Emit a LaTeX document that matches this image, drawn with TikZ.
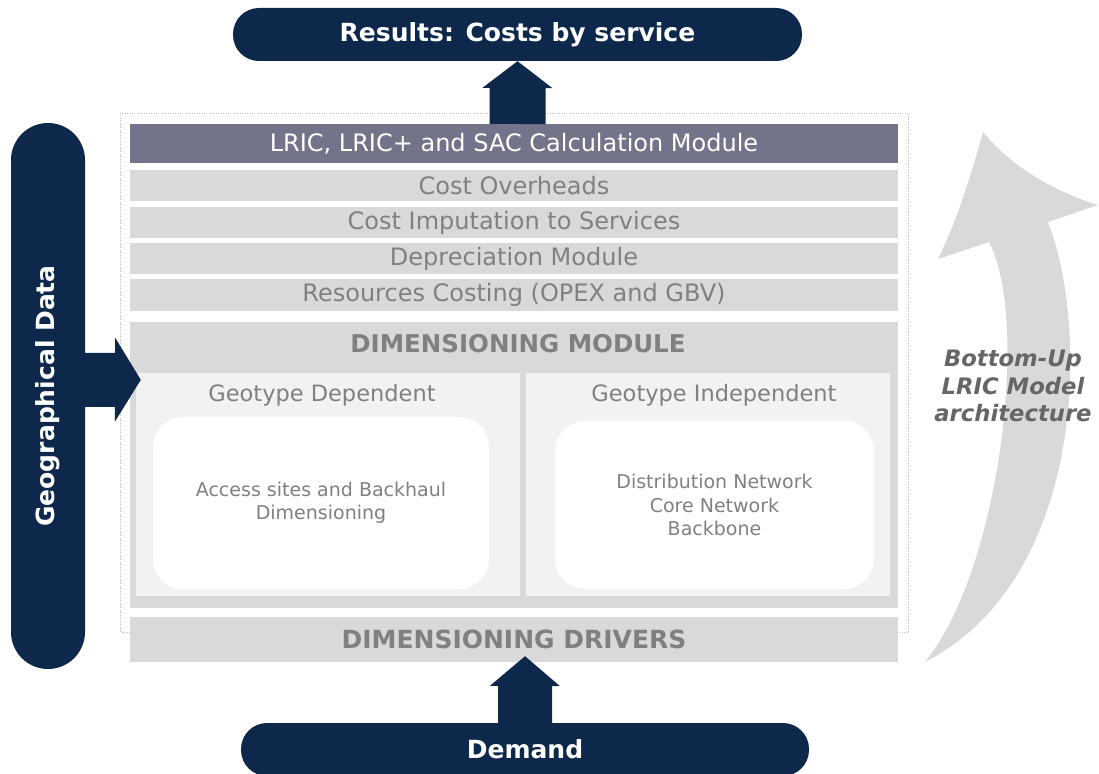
\documentclass[tikz,border=0pt]{standalone}
\usepackage{fontspec}
\setmainfont{DejaVu Sans}
\usepackage{graphicx}
\usetikzlibrary{
  calc,
  positioning,
}
\definecolor{navy}{RGB}{14, 40, 76}
\definecolor{slate}{RGB}{115, 115, 138}
\definecolor{lightgrey}{RGB}{217, 217, 217}
\definecolor{panelgrey}{RGB}{242, 242, 242}
\definecolor{textgrey}{RGB}{128, 128, 128}
\definecolor{darktext}{RGB}{102, 102, 102}
\tikzstyle{pill} = [
  fill=navy,
  text=white,
  inner sep=0pt,
  font=\bfseries\fontsize{25}{25}\selectfont,
]
\tikzstyle{layer} = [
  fill=lightgrey,
  text=textgrey,
  inner sep=0pt,
  minimum width=768pt,
  font=\fontsize{24}{24}\selectfont,
]
\tikzstyle{panel} = [
  fill=panelgrey,
  inner sep=0pt,
  minimum height=223pt,
]
\tikzstyle{whitebox} = [
  fill=white,
  text=textgrey,
  rounded corners=30pt,
  inner sep=0pt,
  align=center,
  font=\fontsize{19}{23.5}\selectfont,
]

\begin{document}
\begin{tikzpicture}[x=1pt, y=-1pt]

        \path [use as bounding box, fill=white] (0,0) rectangle (1099,773);

        \draw [black!25, dotted] (120,113) rectangle (908,632);

        \node [pill, minimum width=569pt, minimum height=53pt, rounded corners=26pt]
              (results) at (517.5,34.5) {Results: Costs by service};

        \node [layer, fill=slate, text=white, minimum height=39pt] (lric) at (514,143.5)
              {LRIC, LRIC+ and SAC Calculation Module};
        \node [layer, minimum height=31pt] (overheads) at (514,185.5) {Cost Overheads};
        \node [layer, minimum height=31pt] (imputation) at (514,222.5) {Cost Imputation to Services};
        \node [layer, minimum height=31pt] (depreciation) at (514,258.5) {Depreciation Module};
        \node [layer, minimum height=32pt] (resources) at (514,295) {Resources Costing (OPEX and GBV)};

        \node [layer, minimum height=286pt] (dimmod) at (514,465) {};
        \node [below=12pt of dimmod.north, xshift=4pt, text=textgrey, inner sep=0pt,
               font=\bfseries\fontsize{24.5}{24.5}\selectfont] (dimtitle) {DIMENSIONING MODULE};

        \node [panel, minimum width=384pt] (geodep) at (328,484.5) {};
        \node [panel, minimum width=364pt] (geoindep) at (708,484.5) {};

        \node [below=11pt of geodep.north, xshift=-6pt, text=textgrey, inner sep=0pt,
               font=\fontsize{22.5}{22.5}\selectfont] (deplabel) {Geotype Dependent};
        \node [below=11pt of geoindep.north, xshift=6pt, text=textgrey, inner sep=0pt,
               font=\fontsize{22.5}{22.5}\selectfont] (indeplabel) {Geotype Independent};

        \node [whitebox, minimum width=336pt, minimum height=172pt] (depbox) at (321,503)
              {Access sites and Backhaul\\Dimensioning};
        \node [whitebox, minimum width=319pt, minimum height=168pt] (indepbox) at (714.5,505)
              {Distribution Network\\Core Network\\Backbone};

        \node [layer, minimum height=45pt, font=\bfseries\fontsize{25}{25}\selectfont]
              (drivers) at (514,639.5) {DIMENSIONING DRIVERS};

        \node [pill, minimum width=568pt, minimum height=53pt, rounded corners=26pt]
              (demand) at (525,749.5) {Demand};

        \node [pill, minimum width=74pt, minimum height=546pt, rounded corners=37pt]
              (geodata) at (48,396) {\rotatebox{90}{Geographical Data}};

        % block arrows
        \fill [navy] ($(results.south |- lric.north)+(-28,0)$) -- ++(0,-36) -- ++(-7,0)
              -- (results.south) -- ++(35,27) -- ++(-7,0) -- ++(0,36) -- cycle;

        \coordinate (dtip) at ($(demand.north |- drivers.south)+(0,-6)$);
        \fill [navy] ($(demand.north)+(-27,0)$) -- ++(0,-37) -- ++(-8,0)
              -- (dtip) -- ++(35,30) -- ++(-8,0) -- ++(0,37) -- cycle;

        \coordinate (geotip) at ($(geodep.north west)+(5,7)$);
        \fill [navy] ($(geodata.east |- geotip)+(-1,-27)$) -- ++(31,0) -- ++(0,-15)
              -- (geotip) -- ++(-26,42) -- ++(0,-15) -- ++(-31,0) -- cycle;

        % bottom-up arc
        \fill [lightgrey] (925,662) .. controls (1000,570) and (1030,320) .. (989,242)
              -- (938,259) .. controls (960,215) and (975,160) .. (983,132)
              .. controls (1010,165) and (1050,190) .. (1098,205)
              -- (1048,222) .. controls (1090,330) and (1085,580) .. (925,662) -- cycle;

        \node [text=darktext, align=center, inner sep=0pt,
               font=\bfseries\itshape\fontsize{22.7}{27.5}\selectfont]
              (bottomup) at (1013,386) {Bottom-Up\\LRIC Model\\architecture};
      \end{tikzpicture}
\end{document}
